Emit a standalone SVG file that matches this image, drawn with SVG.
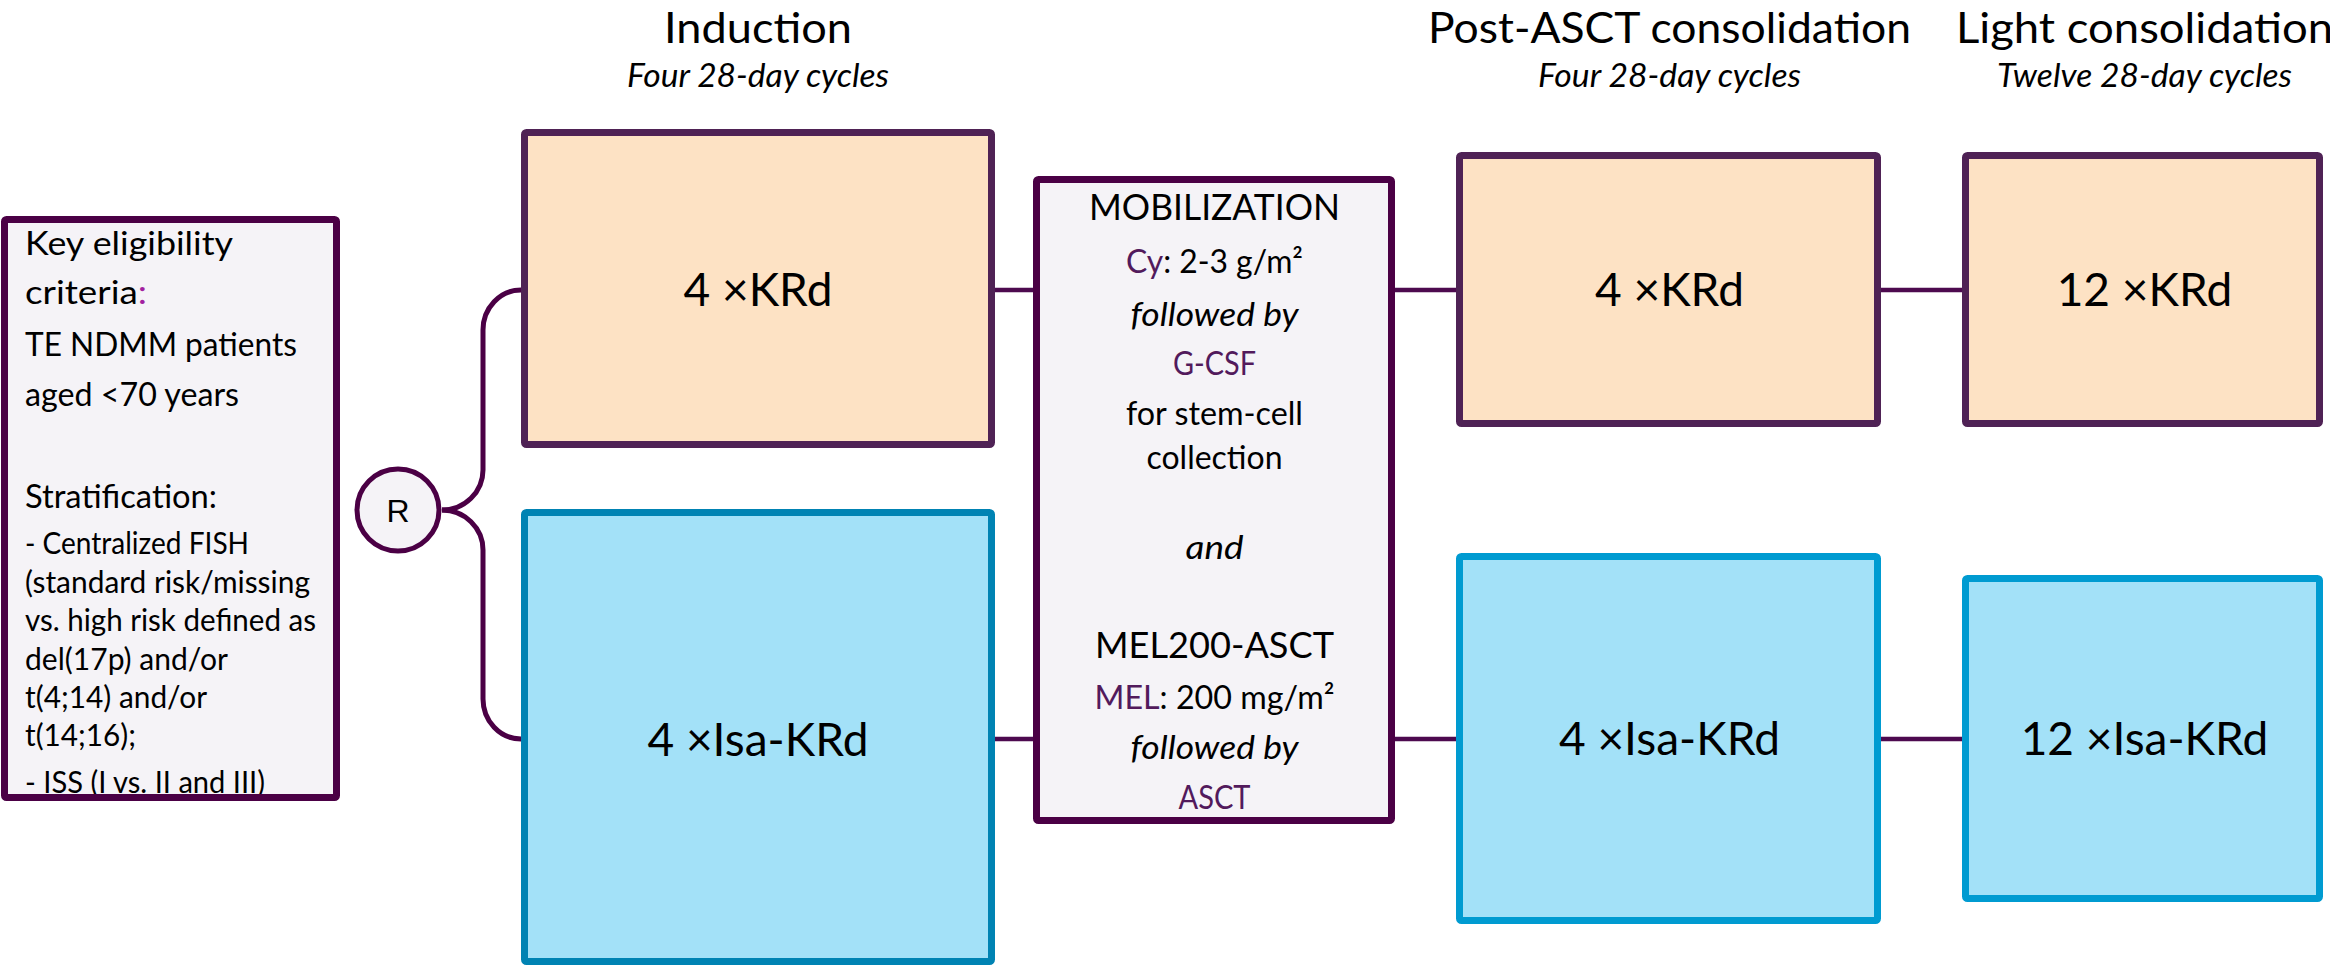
<svg xmlns="http://www.w3.org/2000/svg" width="2330" height="966" viewBox="0 0 2330 966">
  <defs>
    <style>
      .t { font-family: Lato, "Liberation Sans", sans-serif; fill: #000; }
      .hd { font-size: 43px; text-anchor: middle; }
      .hdl { font-size: 43px; }
      .sub { font-size: 32px; font-style: italic; text-anchor: middle; }
      .lbl { font-size: 46px; text-anchor: middle; }
      .mob { font-size: 33px; text-anchor: middle; }
      .mobh { font-size: 37px; text-anchor: middle; }
      .it { font-style: italic; }
      .crit { font-size: 31px; }
      .crith { font-size: 32px; }
      .pu { fill: #521A5C; }
      .mg { fill: #A21FA0; }
      .peach { fill: #FDE2C4; stroke: #4F2255; stroke-width: 7; }
      .blueA { fill: #A3E1F8; stroke: #0083B3; stroke-width: 7; }
      .blueB { fill: #A3E1F8; stroke: #009BD1; stroke-width: 7; }
      .lav { fill: #F5F3F7; stroke: #4B0045; stroke-width: 7; }
      .lavfill { fill: #F5F3F7; }
      .lavedge { fill: none; stroke: #4B0045; stroke-width: 7; }
      .conn { fill: none; stroke: #4D0A4F; stroke-width: 4.5; }
      .brace { fill: none; stroke: #4B0045; stroke-width: 5; }
    </style>
    <clipPath id="critClip">
      <rect x="8" y="223" width="325" height="571"/>
    </clipPath>
  </defs>

  <rect width="2330" height="966" fill="#FFFFFF"/>

  <!-- Phase titles -->
  <g id="titles" class="t">
    <text class="t hd" x="758" y="43" textLength="188" lengthAdjust="spacingAndGlyphs">Induction</text>
    <text class="t sub" x="758" y="87" textLength="262" lengthAdjust="spacingAndGlyphs">Four 28-day cycles</text>
    <text class="t hd" x="1669.5" y="43" textLength="483" lengthAdjust="spacingAndGlyphs">Post-ASCT consolidation</text>
    <text class="t sub" x="1669.5" y="87" textLength="263" lengthAdjust="spacingAndGlyphs">Four 28-day cycles</text>
    <text class="t hdl" x="1956" y="43" textLength="377" lengthAdjust="spacingAndGlyphs">Light consolidation</text>
    <text class="t sub" x="2144.5" y="87" textLength="295" lengthAdjust="spacingAndGlyphs">Twelve 28-day cycles</text>
  </g>

  <!-- Connectors -->
  <g id="connectors">
    <path class="brace" d="M 442 510 A 41 40 0 0 0 483 470 L 483 330 A 38 40 0 0 1 521 290"/>
    <path class="brace" d="M 442 510 A 41 40 0 0 1 483 550 L 483 699 A 38 40 0 0 0 521 739"/>
    <line class="conn" x1="995" y1="290" x2="1033" y2="290"/>
    <line class="conn" x1="1395" y1="290" x2="1456" y2="290"/>
    <line class="conn" x1="1881" y1="290" x2="1962" y2="290"/>
    <line class="conn" x1="995" y1="739" x2="1033" y2="739"/>
    <line class="conn" x1="1395" y1="739" x2="1456" y2="739"/>
    <line class="conn" x1="1881" y1="739" x2="1962" y2="739"/>
  </g>

  <!-- Eligibility criteria -->
  <g id="criteria">
    <rect class="lavfill" x="4.5" y="219.5" width="332" height="578" rx="2"/>
    <g clip-path="url(#critClip)">
      <text class="t crith" x="25" y="255" textLength="208" lengthAdjust="spacingAndGlyphs">Key eligibility</text>
      <text class="t crith" x="25" y="304" textLength="122" lengthAdjust="spacingAndGlyphs">criteria<tspan class="mg">:</tspan></text>
      <text class="t crith" x="25" y="356" textLength="272" lengthAdjust="spacingAndGlyphs">TE NDMM patients</text>
      <text class="t crith" x="25" y="405.5" textLength="214" lengthAdjust="spacingAndGlyphs">aged &lt;70 years</text>
      <text class="t crith" x="25" y="507.5" textLength="192" lengthAdjust="spacingAndGlyphs">Stratification:</text>
      <text class="t crit" x="25" y="554" textLength="224" lengthAdjust="spacingAndGlyphs">- Centralized FISH</text>
      <text class="t crit" x="25" y="592.5" textLength="285" lengthAdjust="spacingAndGlyphs">(standard risk/missing</text>
      <text class="t crit" x="25" y="631" textLength="291" lengthAdjust="spacingAndGlyphs">vs. high risk defined as</text>
      <text class="t crit" x="25" y="669.5" textLength="203" lengthAdjust="spacingAndGlyphs">del(17p) and/or</text>
      <text class="t crit" x="25" y="708" textLength="182" lengthAdjust="spacingAndGlyphs">t(4;14) and/or</text>
      <text class="t crit" x="25" y="746" textLength="111" lengthAdjust="spacingAndGlyphs">t(14;16);</text>
      <text class="t crit" x="25" y="793" textLength="240" lengthAdjust="spacingAndGlyphs">- ISS (I vs. II and III)</text>
    </g>
    <rect class="lavedge" x="4.5" y="219.5" width="332" height="578" rx="2"/>
  </g>

  <!-- Randomisation -->
  <g id="randomization">
    <circle cx="398" cy="510" r="41" fill="#F5F3F7" stroke="#4B0045" stroke-width="5"/>
    <text x="398" y="521.5" font-family="'Liberation Sans', Arial, sans-serif" font-size="32" text-anchor="middle" fill="#000">R</text>
  </g>

  <!-- Induction arms -->
  <g id="induction-krd">
    <rect class="peach" x="524.5" y="132.5" width="467" height="312" rx="2"/>
    <text class="t lbl" x="758" y="306">4 ×KRd</text>
  </g>
  <g id="induction-isakrd">
    <rect class="blueA" x="524.5" y="512.5" width="467" height="449" rx="2"/>
    <text class="t lbl" x="758" y="756">4 ×Isa-KRd</text>
  </g>

  <!-- Mobilization and transplant -->
  <g id="mobilization">
    <rect class="lav" x="1036.5" y="179.5" width="355" height="641" rx="2"/>
    <text class="t mobh" x="1214.5" y="220" textLength="251" lengthAdjust="spacingAndGlyphs">MOBILIZATION</text>
    <text class="t mob" x="1214.5" y="273" textLength="177" lengthAdjust="spacingAndGlyphs"><tspan class="pu">Cy</tspan>: 2-3 g/m²</text>
    <text class="t mob it" x="1214.5" y="326" textLength="168" lengthAdjust="spacingAndGlyphs">followed by</text>
    <text class="t mob pu" x="1214.5" y="375" textLength="83" lengthAdjust="spacingAndGlyphs">G-CSF</text>
    <text class="t mob" x="1214.5" y="425" textLength="177" lengthAdjust="spacingAndGlyphs">for stem-cell</text>
    <text class="t mob" x="1214.5" y="469" textLength="136" lengthAdjust="spacingAndGlyphs">collection</text>
    <text class="t mob it" x="1214.5" y="559" textLength="58" lengthAdjust="spacingAndGlyphs">and</text>
    <text class="t mobh" x="1214.5" y="658" textLength="239" lengthAdjust="spacingAndGlyphs">MEL200-ASCT</text>
    <text class="t mob" x="1214.5" y="709" textLength="240" lengthAdjust="spacingAndGlyphs"><tspan class="pu">MEL</tspan>: 200 mg/m²</text>
    <text class="t mob it" x="1214.5" y="759" textLength="168" lengthAdjust="spacingAndGlyphs">followed by</text>
    <text class="t mob pu" x="1214.5" y="809" textLength="72" lengthAdjust="spacingAndGlyphs">ASCT</text>
  </g>

  <!-- Post-ASCT consolidation arms -->
  <g id="post-asct-krd">
    <rect class="peach" x="1459.5" y="155.5" width="418" height="268" rx="2"/>
    <text class="t lbl" x="1669.5" y="306">4 ×KRd</text>
  </g>
  <g id="post-asct-isakrd">
    <rect class="blueB" x="1459.5" y="556.5" width="418" height="364" rx="2"/>
    <text class="t lbl" x="1669.5" y="755">4 ×Isa-KRd</text>
  </g>

  <!-- Light consolidation arms -->
  <g id="light-krd">
    <rect class="peach" x="1965.5" y="155.5" width="354" height="268" rx="2"/>
    <text class="t lbl" x="2144.5" y="306">12 ×KRd</text>
  </g>
  <g id="light-isakrd">
    <rect class="blueB" x="1965.5" y="578.5" width="354" height="320" rx="2"/>
    <text class="t lbl" x="2144.5" y="755">12 ×Isa-KRd</text>
  </g>
</svg>
